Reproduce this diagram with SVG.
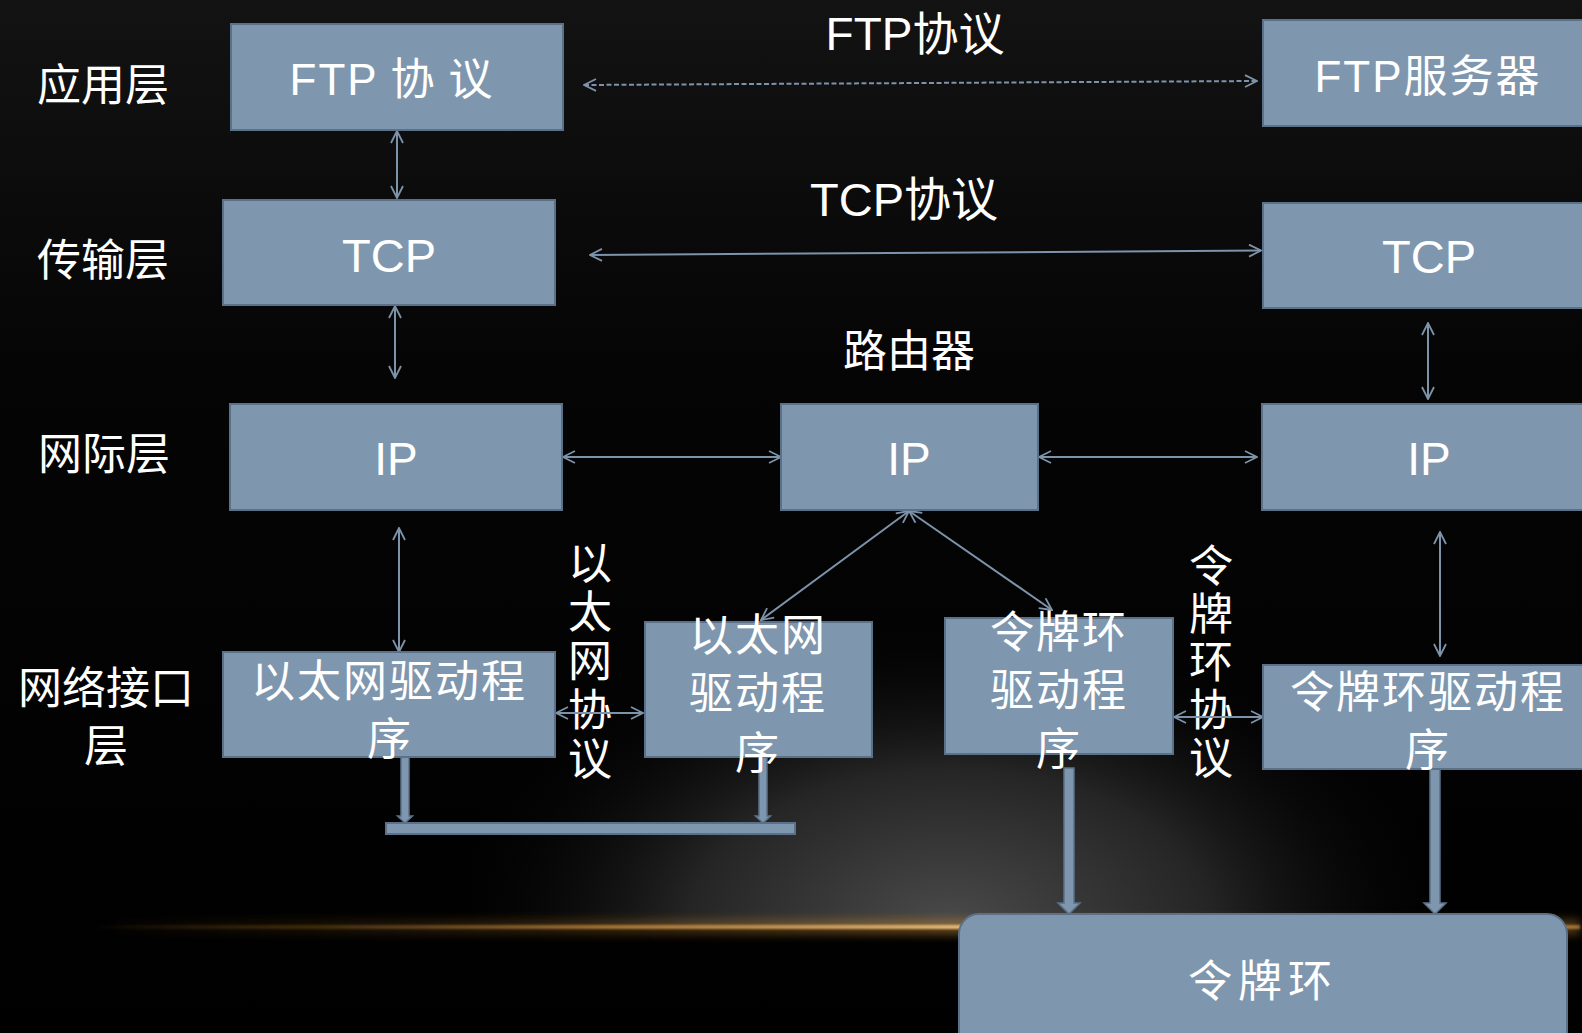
<svg xmlns="http://www.w3.org/2000/svg" width="1582" height="1033" viewBox="0 0 1582 1033">
<defs>
<linearGradient id="bgTop" x1="0" y1="0" x2="0" y2="1">
<stop offset="0" stop-color="#131313"/>
<stop offset="0.35" stop-color="#050505"/>
<stop offset="1" stop-color="#000000"/>
</linearGradient>
<radialGradient id="spot" cx="950" cy="925" r="520" gradientUnits="userSpaceOnUse" gradientTransform="translate(950 925) scale(1 0.6) translate(-950 -925)">
<stop offset="0" stop-color="#4a4a4a"/>
<stop offset="0.5" stop-color="#252525"/>
<stop offset="1" stop-color="#000000" stop-opacity="0"/>
</radialGradient>
<linearGradient id="glow" x1="0" y1="0" x2="1" y2="0">
<stop offset="0" stop-color="#c08030" stop-opacity="0"/>
<stop offset="0.15" stop-color="#8a6020" stop-opacity="0.35"/>
<stop offset="0.35" stop-color="#c08a40" stop-opacity="0.8"/>
<stop offset="0.6" stop-color="#e8c080"/>
<stop offset="1" stop-color="#e0a050" stop-opacity="0.6"/>
</linearGradient>
<linearGradient id="halo" x1="0" y1="0" x2="1" y2="0">
<stop offset="0" stop-color="#a06820" stop-opacity="0"/>
<stop offset="0.3" stop-color="#a06820" stop-opacity="0.25"/>
<stop offset="0.6" stop-color="#b07a30" stop-opacity="0.55"/>
<stop offset="1" stop-color="#b07a30" stop-opacity="0.4"/>
</linearGradient>
<filter id="blur" x="-5%" y="-300%" width="110%" height="700%">
<feGaussianBlur stdDeviation="1.2"/>
</filter>
<filter id="blur2" x="-5%" y="-300%" width="110%" height="700%">
<feGaussianBlur stdDeviation="4"/>
</filter>
<clipPath id="above"><rect x="0" y="0" width="1582" height="926"/></clipPath>
<marker id="oa" viewBox="0 0 14 14" refX="13" refY="7" markerWidth="14" markerHeight="14" markerUnits="userSpaceOnUse" orient="auto-start-reverse">
<path d="M1,1 L13,7 L1,13" fill="none" stroke="#7d93aa" stroke-width="1.8"/>
</marker>
<style>
.box{fill:#7f97ae;stroke:#5b7189;stroke-width:2}
.blk{fill:#7f97ae;stroke:#5b7189;stroke-width:1.5}
.lat{font-family:"Liberation Sans",Arial,"Noto Sans CJK SC",sans-serif;fill:#ffffff}
.cjk{font-family:"Noto Sans CJK SC","Liberation Sans",sans-serif;fill:#ffffff}
.lbl{font-size:44px;text-anchor:middle}
.bt{font-size:44px;text-anchor:middle;letter-spacing:2px}
.vt{font-size:44px;writing-mode:vertical-rl;text-orientation:upright}
.conn{stroke:#7d93aa;stroke-width:2;fill:none}
</style>
</defs>

<rect x="0" y="0" width="1582" height="1033" fill="url(#bgTop)"/>
<rect x="0" y="500" width="1582" height="426" fill="url(#spot)" clip-path="url(#above)"/>
<rect x="90" y="919" width="1490" height="16" fill="url(#halo)" filter="url(#blur2)"/>
<rect x="90" y="925" width="1490" height="4" fill="url(#glow)" filter="url(#blur)"/>

<g id="layer-labels">
<text class="cjk lbl" x="103" y="101">应用层</text>
<text class="cjk lbl" x="103" y="276">传输层</text>
<text class="cjk lbl" x="104" y="470">网际层</text>
<text class="cjk lbl" x="106" y="704">网络接口</text>
<text class="cjk lbl" x="106" y="762">层</text>
</g>

<g id="label-ftp-protocol"><text class="cjk lbl" x="915" y="50" style="font-size:46px"><tspan class="lat">FTP</tspan>协议</text></g>
<g id="label-tcp-protocol"><text class="cjk lbl" x="904" y="216" style="font-size:47px"><tspan class="lat">TCP</tspan>协议</text></g>
<g id="label-router"><text class="cjk lbl" x="909" y="367">路由器</text></g>
<g id="label-eth-protocol">
<text class="cjk vt" x="590" y="540" style="letter-spacing:5px">以太网协议</text>
</g>
<g id="label-token-protocol">
<text class="cjk vt" x="1211" y="543" style="letter-spacing:4px">令牌环协议</text>
</g>

<g id="connectors">
<line class="conn" x1="397" y1="131" x2="397" y2="198" marker-start="url(#oa)" marker-end="url(#oa)"/>
<line class="conn" x1="395" y1="306" x2="395" y2="378" marker-start="url(#oa)" marker-end="url(#oa)"/>
<line class="conn" x1="399" y1="528" x2="399" y2="652" marker-start="url(#oa)" marker-end="url(#oa)"/>
<line class="conn" x1="563" y1="457" x2="781" y2="457" marker-start="url(#oa)" marker-end="url(#oa)"/>
<line class="conn" x1="1039" y1="457" x2="1257" y2="457" marker-start="url(#oa)" marker-end="url(#oa)"/>
<line class="conn" x1="1428" y1="323" x2="1428" y2="399" marker-start="url(#oa)" marker-end="url(#oa)"/>
<line class="conn" x1="1440" y1="532" x2="1440" y2="656" marker-start="url(#oa)" marker-end="url(#oa)"/>
<line class="conn" x1="909" y1="511" x2="761" y2="620" marker-start="url(#oa)" marker-end="url(#oa)"/>
<line class="conn" x1="909" y1="511" x2="1052" y2="610" marker-start="url(#oa)" marker-end="url(#oa)"/>
<line class="conn" x1="556" y1="713" x2="643" y2="713" marker-start="url(#oa)" marker-end="url(#oa)"/>
<line class="conn" x1="1174" y1="717" x2="1263" y2="717" marker-start="url(#oa)" marker-end="url(#oa)"/>
<line class="conn" x1="584" y1="85" x2="1257" y2="81" stroke-dasharray="5,2.5" marker-start="url(#oa)" marker-end="url(#oa)"/>
<line class="conn" x1="590" y1="255" x2="1261" y2="250.5" marker-start="url(#oa)" marker-end="url(#oa)"/>
<path class="blk" d="M401,753 L409,753 L409,816 L412.5,816 L405,823 L397.5,816 L401,816 Z"/>
<path class="blk" d="M759,753 L767,753 L767,816 L770.5,816 L763,823 L755.5,816 L759,816 Z"/>
<path class="blk" d="M1064,768 L1074,768 L1074,903 L1080,903 L1069,914 L1058,903 L1064,903 Z"/>
<path class="blk" d="M1430,769 L1440,769 L1440,903 L1446,903 L1435,914 L1424,903 L1430,903 Z"/>
</g>

<g id="node-ftp-client">
<rect class="box" x="231" y="24" width="332" height="106"/>
<text class="cjk bt" x="392" y="95"><tspan class="lat">FTP</tspan> 协 议</text>
</g>
<g id="node-tcp-client">
<rect class="box" x="223" y="200" width="332" height="105"/>
<text class="lat bt" x="389" y="272" style="font-size:47px;letter-spacing:0">TCP</text>
</g>
<g id="node-ip-client">
<rect class="box" x="230" y="404" width="332" height="106"/>
<text class="lat bt" x="396" y="475" style="font-size:46px;letter-spacing:0">IP</text>
</g>
<g id="node-eth-client">
<rect class="box" x="223" y="652" width="332" height="105"/>
<text class="cjk bt" x="389" y="697">以太网驱动程</text>
<text class="cjk bt" x="390" y="755">序</text>
</g>

<g id="node-ip-router">
<rect class="box" x="781" y="404" width="257" height="106"/>
<text class="lat bt" x="909" y="475" style="font-size:46px;letter-spacing:0">IP</text>
</g>
<g id="node-eth-router">
<rect class="box" x="645" y="622" width="227" height="135"/>
<text class="cjk bt" x="758" y="651">以太网</text>
<text class="cjk bt" x="758" y="709">驱动程</text>
<text class="cjk bt" x="758" y="769">序</text>
</g>
<g id="node-token-router">
<rect class="box" x="945" y="618" width="228" height="136"/>
<text class="cjk bt" x="1059" y="648">令牌环</text>
<text class="cjk bt" x="1059" y="706">驱动程</text>
<text class="cjk bt" x="1059" y="765">序</text>
</g>

<g id="node-ftp-server">
<rect class="box" x="1263" y="20" width="340" height="106"/>
<text class="cjk bt" x="1428" y="92"><tspan class="lat">FTP</tspan>服务器</text>
</g>
<g id="node-tcp-server">
<rect class="box" x="1263" y="203" width="340" height="105"/>
<text class="lat bt" x="1429" y="273" style="font-size:47px;letter-spacing:0">TCP</text>
</g>
<g id="node-ip-server">
<rect class="box" x="1262" y="404" width="340" height="106"/>
<text class="lat bt" x="1429" y="475" style="font-size:46px;letter-spacing:0">IP</text>
</g>
<g id="node-token-server">
<rect class="box" x="1263" y="665" width="340" height="104"/>
<text class="cjk bt" x="1428" y="708">令牌环驱动程</text>
<text class="cjk bt" x="1428" y="766">序</text>
</g>

<g id="node-eth-bus">
<rect class="box" x="386" y="823" width="409" height="11" stroke-width="1.5"/>
</g>
<g id="node-token-ring">
<rect class="box" x="959" y="914" width="608" height="150" rx="20" ry="20"/>
<text class="cjk bt" x="1263" y="997" style="letter-spacing:6px">令牌环</text>
</g>
</svg>
